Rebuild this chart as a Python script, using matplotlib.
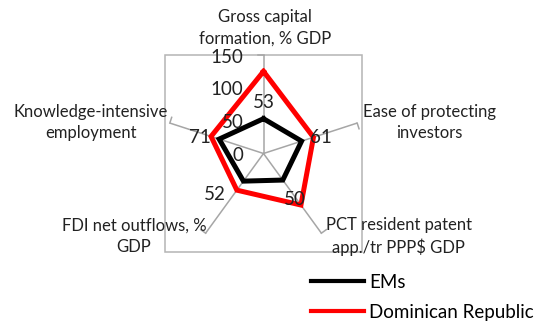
import numpy as np
import matplotlib
matplotlib.use("Agg")
from matplotlib import pyplot as plt
from matplotlib.patches import Rectangle

plt.rcParams['font.family'] = ['Lato', 'DejaVu Sans']

# data
categories = ['Gross capital\nformation, % GDP',
              'Ease of protecting\ninvestors',
              'PCT resident patent\napp./tr PPP$ GDP',
              'FDI net outflows, %\nGDP',
              'Knowledge-intensive\nemployment']
ems = [53, 61, 50, 52, 71]
dom_rep = [125, 80, 97, 69, 84]
value_labels = ['53', '61', '50', '52', '71']
r_ticks = [0, 50, 100, 150]

W, H = 541, 327
fig = plt.figure(figsize=(W / 100, H / 100), dpi=100)

# plot area box in pixels
x0, y0, side = 165, 55, 197
ax = fig.add_axes([x0 / W, 1 - (y0 + side) / H, side / W, side / H], projection='polar')
ax.set_theta_offset(np.pi / 2)
ax.set_theta_direction(-1)
ax.set_ylim(0, 150)
ax.grid(False)
ax.set_xticks([])
ax.set_yticks([])
ax.spines['polar'].set_visible(False)
ax.patch.set_alpha(0)

n = len(categories)
theta = np.arange(n) * 2 * np.pi / n

grey = '#a6a6a6'
# spokes + little end ticks
tick_side = [-1, 1, -1, 1, 1]
d = np.arctan(6 / 98.5)
for t, s in zip(theta, tick_side):
    ax.plot([t, t], [0, 150], color=grey, lw=1.1, zorder=1)
    ax.plot([t, t + s * d], [150, 150 / np.cos(d)], color=grey, lw=1.1, zorder=1, clip_on=False)

# frame around plot area
ax.add_patch(Rectangle((0, 0), 1, 1, transform=ax.transAxes, fill=False,
                       edgecolor='#b4b4b4', lw=1.1, clip_on=False, zorder=0))

th = np.append(theta, theta[0])
ax.plot(th, ems + ems[:1], color='black', lw=3.6, zorder=3, solid_joinstyle='miter', label='EMs')
ax.plot(th, dom_rep + dom_rep[:1], color='#ff0000', lw=3.6, zorder=2, solid_joinstyle='miter',
        label='Dominican Republic')

# radial scale labels
for r in r_ticks:
    ax.annotate(str(r), xy=(0, r), xytext=(-14.5, -1.5), textcoords='offset points',
                ha='right', va='center', fontsize=13.5, color='#222222', annotation_clip=False)

# data labels
offsets = [(0, 11.5), (13.7, 2.6), (8.4, -14), (-20.9, -9.6), (-13.7, 1.4)]
for t, v, lab, off in zip(theta, ems, value_labels, offsets):
    ax.annotate(lab, xy=(t, v), xytext=off, textcoords='offset points',
                ha='center', va='center', fontsize=13.5, color='#222222', zorder=5)

# category labels
cat_pos = [(265, 27.5), (429.5, 122.3), (398.5, 236.3), (134, 236), (91, 122.5)]
for lab, (px, py) in zip(categories, cat_pos):
    fig.text(px / W, 1 - py / H, lab, ha='center', va='center', fontsize=12,
             linespacing=1.42, color='#222222')

leg = fig.legend(loc='upper left', bbox_to_anchor=(311 / W, 1 - 274 / H), frameon=False,
                 fontsize=13.5, handlelength=2.8, handletextpad=0.3, borderpad=0,
                 borderaxespad=0, labelspacing=0.68)
for line in leg.get_lines():
    line.set_linewidth(3)

fig.savefig('out.png', dpi=100)
